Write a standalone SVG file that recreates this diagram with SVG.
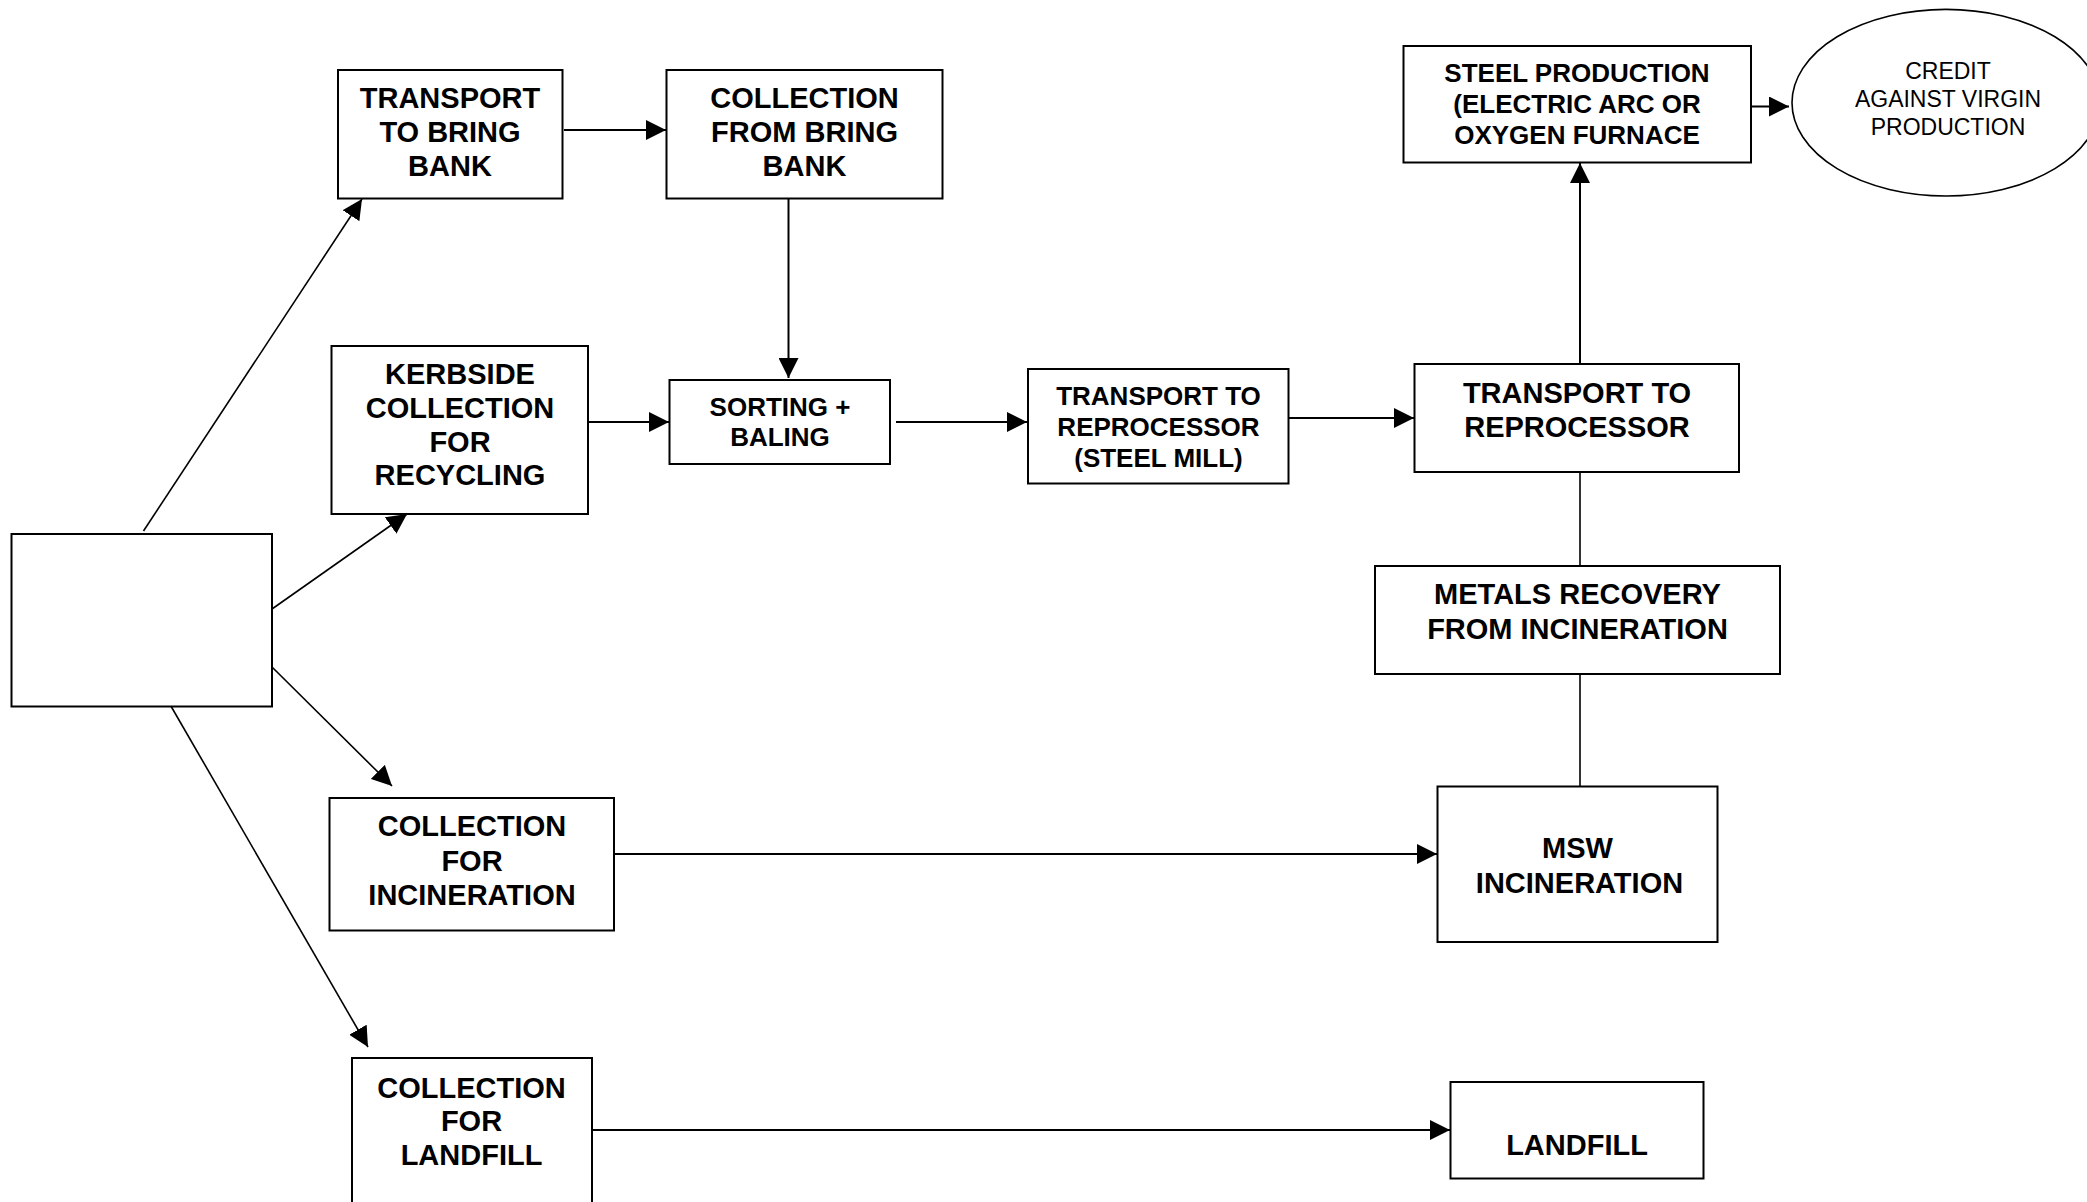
<svg xmlns="http://www.w3.org/2000/svg" width="2087" height="1202" viewBox="0 0 2087 1202">
<style>
.box{fill:#fff;stroke:#000;stroke-width:2}
.t{font-family:"Liberation Sans",Arial,sans-serif;font-weight:bold;font-size:29px;text-anchor:middle;dominant-baseline:central;fill:#000}
.s{font-size:26px}
.n{font-family:"Liberation Sans",Arial,sans-serif;font-weight:normal;font-size:23px;text-anchor:middle;dominant-baseline:central;fill:#000}
.c{fill:none;stroke:#000;stroke-width:2}
.d{fill:none;stroke:#000;stroke-width:1.6}
</style>
<defs>
<marker id="ah" markerUnits="userSpaceOnUse" markerWidth="21" markerHeight="20" refX="20" refY="10" orient="auto">
<path d="M0,0 L20,10 L0,20 Z" fill="#000"/>
</marker>
</defs>
<rect width="2087" height="1202" fill="#fff"/>
<g id="connectors">
<line class="d" x1="143.5" y1="531" x2="362" y2="199" marker-end="url(#ah)"/>
<line class="d" x1="272" y1="609" x2="407" y2="514" marker-end="url(#ah)"/>
<line class="d" x1="272" y1="667" x2="392" y2="786" marker-end="url(#ah)"/>
<line class="d" x1="168" y1="701" x2="368" y2="1047" marker-end="url(#ah)"/>
<line class="c" x1="564" y1="130" x2="666" y2="130" marker-end="url(#ah)"/>
<line class="c" x1="788.5" y1="199" x2="788.5" y2="378" marker-end="url(#ah)"/>
<line class="c" x1="588" y1="422" x2="669" y2="422" marker-end="url(#ah)"/>
<line class="c" x1="896" y1="422" x2="1027" y2="422" marker-end="url(#ah)"/>
<line class="c" x1="1288" y1="418" x2="1414" y2="418" marker-end="url(#ah)"/>
<line class="c" x1="1580" y1="364" x2="1580" y2="163" marker-end="url(#ah)"/>
<line class="c" x1="1751" y1="106.5" x2="1789" y2="106.5" marker-end="url(#ah)"/>
<line class="d" x1="1580" y1="472" x2="1580" y2="566"/>
<line class="d" x1="1580" y1="674" x2="1580" y2="786"/>
<line class="c" x1="614" y1="854" x2="1437" y2="854" marker-end="url(#ah)"/>
<line class="c" x1="587" y1="1130" x2="1450" y2="1130" marker-end="url(#ah)"/>
</g>
<g id="source"><rect class="box" x="11.5" y="534" width="260.5" height="172.5"/></g>
<g id="transport-bring-bank"><rect class="box" x="338" y="70" width="224.5" height="128.5"/>
<text class="t" x="450" y="98">TRANSPORT</text><text class="t" x="450" y="132">TO BRING</text><text class="t" x="450" y="166">BANK</text></g>
<g id="collection-bring-bank"><rect class="box" x="666.5" y="70" width="276" height="128.5"/>
<text class="t" x="804.5" y="98">COLLECTION</text><text class="t" x="804.5" y="132">FROM BRING</text><text class="t" x="804.5" y="166">BANK</text></g>
<g id="kerbside"><rect class="box" x="331.5" y="346" width="256.5" height="168"/>
<text class="t" x="460" y="374">KERBSIDE</text><text class="t" x="460" y="408">COLLECTION</text><text class="t" x="460" y="442">FOR</text><text class="t" x="460" y="475">RECYCLING</text></g>
<g id="sorting"><rect class="box" x="669.5" y="380" width="220.5" height="84"/>
<text class="t s" x="780" y="406.5">SORTING +</text><text class="t s" x="780" y="436.5">BALING</text></g>
<g id="transport-steel-mill"><rect class="box" x="1028" y="369" width="260.5" height="114.5"/>
<text class="t s" x="1158.5" y="396">TRANSPORT TO</text><text class="t s" x="1158.5" y="427">REPROCESSOR</text><text class="t s" x="1158.5" y="458">(STEEL MILL)</text></g>
<g id="transport-reprocessor"><rect class="box" x="1414.5" y="364" width="324.5" height="108"/>
<text class="t" x="1577" y="392.5">TRANSPORT TO</text><text class="t" x="1577" y="426.5">REPROCESSOR</text></g>
<g id="steel-production"><rect class="box" x="1403.5" y="46" width="347.5" height="116.5"/>
<text class="t s" x="1577" y="72.5">STEEL PRODUCTION</text><text class="t s" x="1577" y="103.5">(ELECTRIC ARC OR</text><text class="t s" x="1577" y="135">OXYGEN FURNACE</text></g>
<g id="credit"><ellipse cx="1946" cy="102.7" rx="154" ry="93.3" fill="#fff" stroke="#000" stroke-width="1.6"/>
<text class="n" x="1948" y="71">CREDIT</text><text class="n" x="1948" y="99">AGAINST VIRGIN</text><text class="n" x="1948" y="126.5">PRODUCTION</text></g>
<g id="metals-recovery"><rect class="box" x="1375" y="566" width="405" height="108"/>
<text class="t" x="1577.5" y="594">METALS RECOVERY</text><text class="t" x="1577.5" y="628.5">FROM INCINERATION</text></g>
<g id="msw-incineration"><rect class="box" x="1437.5" y="786.5" width="280" height="155.5"/>
<text class="t" x="1577.5" y="848">MSW</text><text class="t" x="1579.5" y="883">INCINERATION</text></g>
<g id="collection-incineration"><rect class="box" x="329.5" y="798" width="284.5" height="132.5"/>
<text class="t" x="472" y="826">COLLECTION</text><text class="t" x="472" y="860.5">FOR</text><text class="t" x="472" y="895">INCINERATION</text></g>
<g id="collection-landfill"><rect class="box" x="352" y="1058" width="240" height="150"/>
<text class="t" x="471.5" y="1087.5">COLLECTION</text><text class="t" x="471.5" y="1121">FOR</text><text class="t" x="471.5" y="1154.5">LANDFILL</text></g>
<g id="landfill"><rect class="box" x="1450.5" y="1082" width="253" height="96.5"/>
<text class="t" x="1577" y="1144.5">LANDFILL</text></g>
</svg>
